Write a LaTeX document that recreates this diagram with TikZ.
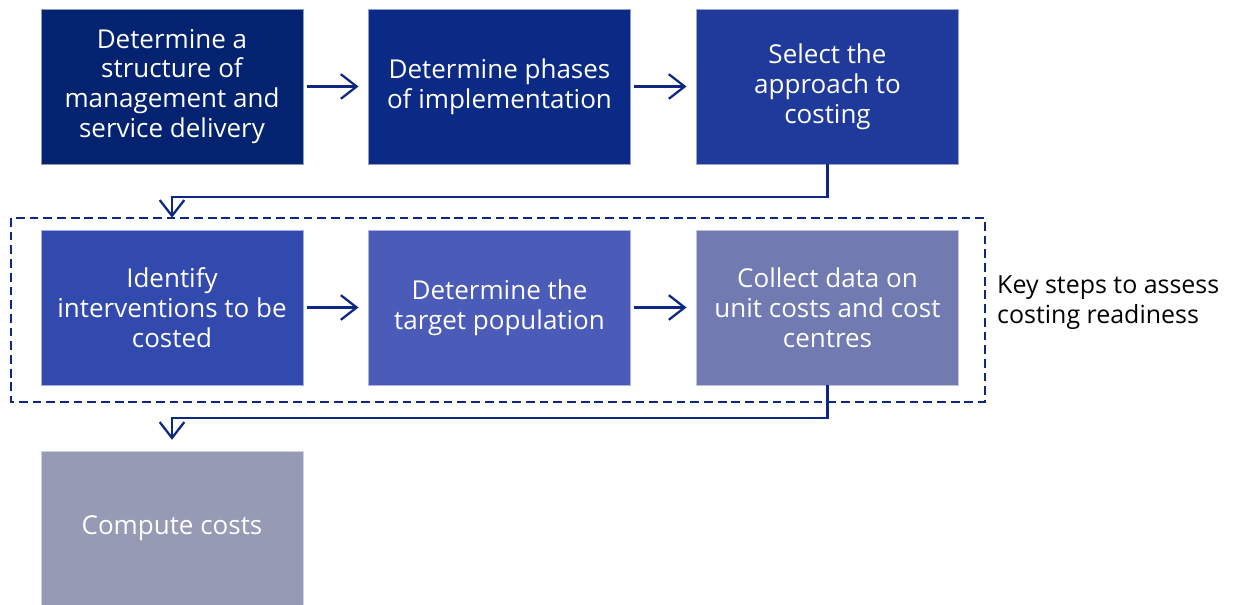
\documentclass[tikz,border=0pt]{standalone}
\usepackage{fontspec}
\setmainfont{Open Sans}
\usetikzlibrary{arrows.meta}

\definecolor{stepA}{RGB}{3,34,111}
\definecolor{stepB}{RGB}{10,42,133}
\definecolor{stepC}{RGB}{31,58,155}
\definecolor{stepD}{RGB}{50,73,174}
\definecolor{stepE}{RGB}{74,91,184}
\definecolor{stepF}{RGB}{113,123,178}
\definecolor{stepG}{RGB}{150,154,180}
\definecolor{linkblue}{RGB}{13,40,130}

\tikzset{
  stepbox/.style={draw=white!55!#1, fill=#1, line width=0.4pt, text=white,
    align=center, minimum width=5.24cm, minimum height=3.1cm, inner sep=0pt,
    font=\fontsize{14.8}{17}\selectfont},
  flow/.style={draw=linkblue, line width=1.3pt,
    -{Straight Barb[length=9pt,width=14pt,line width=1.3pt]}},
  frame/.style={draw=linkblue, line width=1.4pt, dash pattern=on 5pt off 2.8pt}
}

\begin{document}
\begin{tikzpicture}[x=0.02cm,y=0.02cm]
  \useasboundingbox (0,0) rectangle (1234,605);

  % first row
  \node[stepbox=stepA] (structure) at (172,518.5) {Determine a\\structure of\\management and\\service delivery};
  \node[stepbox=stepB] (phases) at (499.5,518.5) {Determine phases\\of implementation};
  \node[stepbox=stepC] (approach) at (827.5,518.5) {Select the\\approach to\\costing};

  % readiness steps
  \node[stepbox=stepD] (interventions) at (172,297.5) {Identify\\interventions to be\\costed};
  \node[stepbox=stepE] (population) at (499.5,297.5) {Determine the\\target population};
  \node[stepbox=stepF] (unitcosts) at (827.5,297.5) {Collect data on\\unit costs and cost\\centres};

  \node[stepbox=stepG] (compute) at (172,76.5) {Compute costs};

  \draw[frame] (11,387) rectangle (985,203);
  \node[anchor=west, align=left, font=\fontsize{14.2}{17}\selectfont] (keysteps) at (991,302) {Key steps to assess\\costing readiness};

  \draw[flow, shorten <=2pt, shorten >=5.5pt] (structure) -- (phases);
  \draw[flow, shorten <=2pt, shorten >=5.5pt] (phases) -- (approach);
  \draw[flow, shorten <=2pt, shorten >=5.5pt] (interventions) -- (population);
  \draw[flow, shorten <=2pt, shorten >=5.5pt] (population) -- (unitcosts);

  \draw[flow, shorten >=6.8pt] (approach.south) -- ++(0,-33) -| (interventions.north);
  \draw[flow, shorten >=6.2pt] (unitcosts.south) -- ++(0,-33) -| (compute.north);
\end{tikzpicture}
\end{document}
